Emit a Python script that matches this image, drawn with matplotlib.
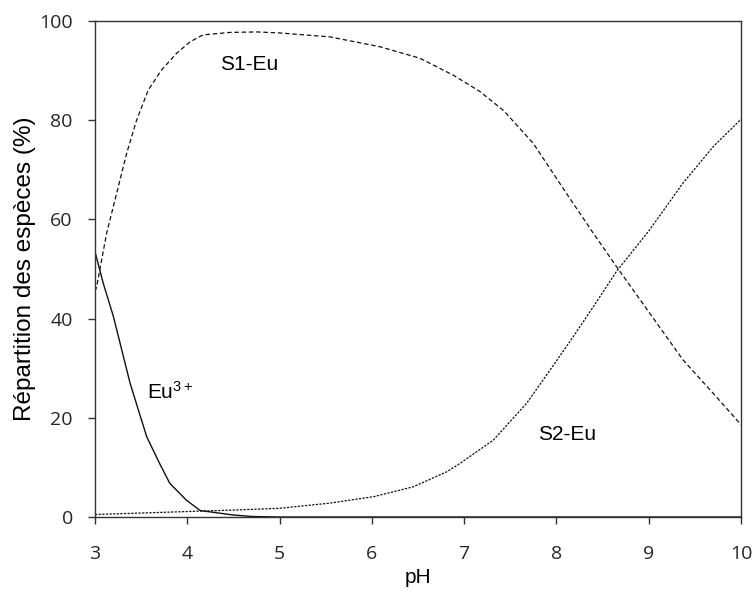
import matplotlib
matplotlib.use("Agg")
import matplotlib.pyplot as plt

plt.rcParams['font.family'] = ['Liberation Sans', 'DejaVu Sans']
plt.rcParams['mathtext.default'] = 'regular'

# values
ph_s1 = [3.0, 3.018, 3.126, 3.235, 3.343, 3.451, 3.578, 3.72, 3.885, 4.03, 4.17, 4.46,
         4.75, 5.0, 5.546, 6.09, 6.52, 6.88, 7.17, 7.43, 7.75, 8.11, 8.40, 8.65,
         9.01, 9.37, 9.70, 10.0]
s1_eu = [45.5, 46.4, 57.2, 65.3, 73.3, 80.0, 86.1, 90.1, 93.5, 95.8, 97.2, 97.7,
         97.8, 97.6, 96.8, 94.8, 92.5, 89.1, 85.8, 81.9, 75.3, 65.2, 57.2, 50.5,
         41.1, 31.7, 24.9, 18.6]

ph_s2 = [3.0, 4.0, 4.5, 5.0, 5.546, 6.02, 6.45, 6.81, 6.955, 7.316, 7.676, 7.93,
         8.18, 8.40, 8.65, 9.01, 9.37, 9.70, 10.0]
s2_eu = [0.5, 1.1, 1.4, 1.75, 2.8, 4.1, 6.1, 9.1, 10.8, 15.5, 22.9, 29.6,
         36.3, 42.4, 49.5, 57.9, 67.3, 74.7, 80.2]

ph_eu = [3.0, 3.09, 3.2, 3.29, 3.38, 3.47, 3.56, 3.70, 3.81, 3.99, 4.14, 4.5, 4.7, 5.0, 10.0]
eu3 = [53.5, 47.1, 40.4, 33.7, 27.0, 21.6, 16.2, 10.8, 6.8, 3.4, 1.3, 0.4, 0.1, 0.0, 0.0]

fig = plt.figure(figsize=(7.55, 5.92), dpi=100)
ax = fig.add_axes([0.1258, 0.1267, 0.8557, 0.8378])

ax.plot(ph_s1, s1_eu, color='#111111', lw=0.9, dashes=(3.6, 2.2))
ax.plot(ph_s2, s2_eu, color='#111111', lw=0.9, dashes=(1.8, 1.1))
ax.plot(ph_eu, eu3, color='#111111', lw=1.0)

ax.text(4.354, 90.1, 'S1-Eu', fontsize=15, ha='left', va='baseline')
ax.text(3.565, 23.8, 'Eu$^{3+}$', fontsize=15, ha='left', va='baseline')
ax.text(7.80, 15.5, 'S2-Eu', fontsize=15, ha='left', va='baseline')

ax.set_xlim(3, 10)
ax.set_ylim(0, 100)
ax.set_xticks(range(3, 11))
ax.set_yticks(range(0, 101, 20))
ax.tick_params(direction='out', length=5, width=1, labelsize=14, labelcolor='#262626', color='#333333')
ax.tick_params(axis='x', pad=15)
ax.tick_params(axis='y', pad=11)
for lab in ax.get_xticklabels() + ax.get_yticklabels():
    lab.set_family(['Open Sans', 'DejaVu Sans'])
for s in ax.spines.values():
    s.set_linewidth(1.0)
    s.set_color('#333333')

ax.set_xlabel('pH', fontsize=15, labelpad=4)
ax.set_ylabel('Répartition des espèces (%)', fontsize=17.5, labelpad=2)

fig.savefig('out.png', dpi=100)
